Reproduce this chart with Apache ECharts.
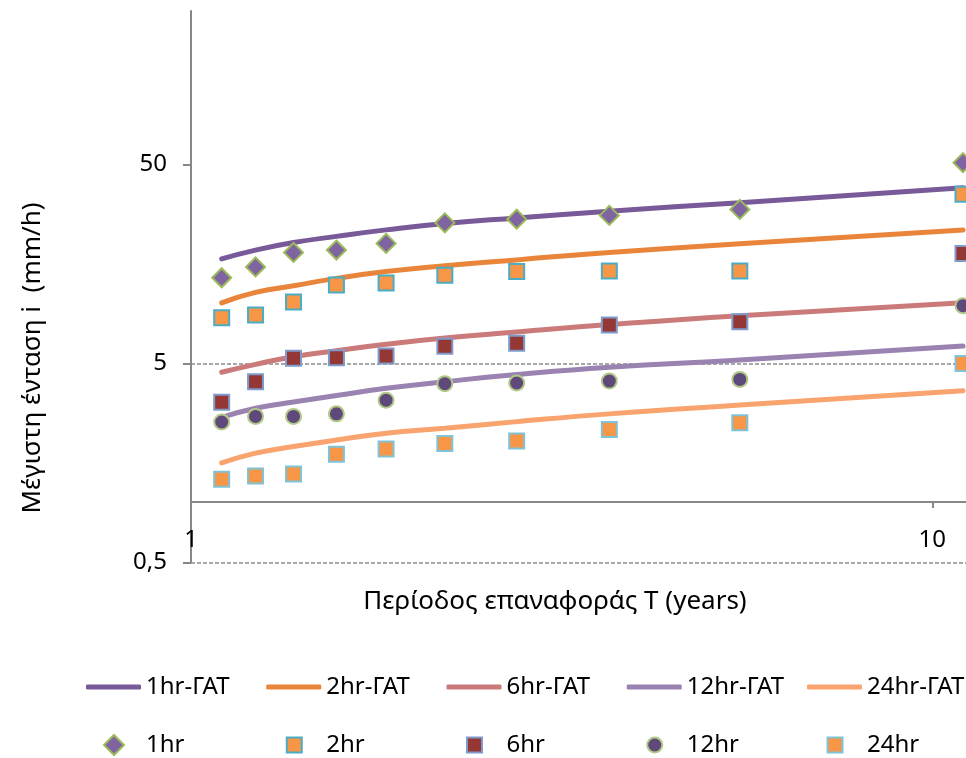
<!DOCTYPE html>
<html>
<head>
<meta charset="utf-8">
<script src="https://cdn.jsdelivr.net/npm/echarts/dist/echarts.min.js"></script>
<style>html,body{margin:0;padding:0;background:#fff;}#c{width:966px;height:758px;}</style>
</head>
<body>
<div id="c"></div>
<script>
// Return period T (years) — plotting positions
var periods = [1.1, 1.222, 1.375, 1.571, 1.833, 2.2, 2.75, 3.667, 5.5, 11];

// Observed maximum intensities (mm/h)
var obs1hr  = [13.5, 15.3, 18.1, 18.6, 20.1, 25.5, 26.6, 27.8, 29.8, 51.2];
var obs2hr  = [8.5, 8.77, 10.2, 12.4, 12.7, 13.9, 14.5, 14.6, 14.6, 35.5];
var obs6hr  = [3.19, 4.05, 5.31, 5.35, 5.46, 6.10, 6.32, 7.81, 8.11, 17.9];
var obs12hr = [2.54, 2.71, 2.71, 2.79, 3.27, 3.96, 3.99, 4.08, 4.16, 9.77];
var obs24hr = [1.31, 1.36, 1.39, 1.75, 1.86, 1.98, 2.04, 2.33, 2.52, 5.0];

// Fitted curves (ΓΑΤ)
var fit1hr  = [16.8, 18.6, 20.3, 21.8, 23.5, 25.3, 27.0, 29.2, 32.2, 38.3];
var fit2hr  = [10.1, 11.4, 12.3, 13.4, 14.5, 15.5, 16.6, 18.1, 20.0, 23.5];
var fit6hr  = [4.52, 4.95, 5.41, 5.80, 6.25, 6.72, 7.20, 7.85, 8.70, 10.1];
var fit12hr = [2.68, 2.98, 3.20, 3.45, 3.75, 4.05, 4.40, 4.79, 5.21, 6.12];
var fit24hr = [1.58, 1.77, 1.91, 2.06, 2.23, 2.36, 2.55, 2.79, 3.09, 3.65];

var lineNames = ['1hr-ΓΑΤ', '2hr-ΓΑΤ', '6hr-ΓΑΤ', '12hr-ΓΑΤ', '24hr-ΓΑΤ'];
var obsNames  = ['1hr', '2hr', '6hr', '12hr', '24hr'];
var yTickLabels = ['0,5', '5', '50'];
var xTickLabels = ['1', '10'];

var FONT = 'Noto Sans';
var lg = Math.log10;
function toPts(vals) { return periods.map(function (t, i) { return [lg(t), lg(vals[i])]; }); }

var lineColors = ['#785A98', '#E9853A', '#CB7A7A', '#9A83B0', '#F9A46E'];
var fits = [fit1hr, fit2hr, fit6hr, fit12hr, fit24hr];
var obsArr = [obs1hr, obs2hr, obs6hr, obs12hr, obs24hr];
var obsStyle = [
  {symbol: 'diamond', size: 19, legend: 20, fill: '#8064A2', border: '#9BBB59'},
  {symbol: 'rect', size: 15, legend: 15, fill: '#F79646', border: '#4BACC6'},
  {symbol: 'rect', size: 15, legend: 15, fill: '#953735', border: '#7F9BCB'},
  {symbol: 'circle', size: 15, legend: 15, fill: '#5F497A', border: '#B0C987'},
  {symbol: 'rect', size: 15, legend: 15, fill: '#F79646', border: '#80C3D7'}
];

var series = [];
fits.forEach(function (f, k) {
  series.push({
    name: lineNames[k], type: 'line', data: toPts(f), smooth: true,
    symbol: 'none', z: 2,
    lineStyle: {color: lineColors[k], width: 5, cap: 'round'},
    itemStyle: {color: lineColors[k]}
  });
});
obsArr.forEach(function (o, k) {
  var s = obsStyle[k];
  series.push({
    name: obsNames[k], type: 'scatter', data: toPts(o), z: 3,
    symbol: s.symbol, symbolSize: s.size, symbolKeepAspect: true,
    itemStyle: {color: s.fill, borderColor: s.border, borderWidth: 2, opacity: 1}
  });
});

var yMin = lg(0.5), yMax = 2.4721;
var gridLeft = 191, gridWidth = 775, pxPerDecade = 741.3;
var xMax = gridWidth / pxPerDecade;
function nearInt(x) { return Math.abs(x - Math.round(x)) < 0.01; }

var legendText = {fontSize: 24, fontFamily: FONT, color: '#000', lineHeight: 26};
var legends = [];
lineNames.forEach(function (n, k) {
  legends.push({
    data: [{name: n, icon: 'roundRect'}], left: 86 + 180.25 * k, top: 674, padding: 0,
    itemWidth: 55, itemHeight: 5, textStyle: legendText
  });
});
obsNames.forEach(function (n, k) {
  var sz = obsStyle[k].legend;
  legends.push({
    data: [n], left: 113 - sz / 2 + 180.25 * k, top: 732, padding: 0,
    itemWidth: sz, itemHeight: sz, itemGap: 0,
    textStyle: {fontSize: 24, fontFamily: FONT, color: '#000', lineHeight: 26,
                padding: [0, 0, 0, 145 - (113 + sz / 2) - 5]}
  });
});

var chart = echarts.init(document.getElementById('c'), null, {renderer: 'canvas'});
chart.setOption({
  animation: false,
  backgroundColor: '#fff',
  grid: {left: gridLeft, top: 11, width: gridWidth, height: 551.3, containLabel: false},
  xAxis: {
    type: 'value', min: 0, max: xMax, interval: 1, position: 'bottom', offset: -60.3,
    axisLine: {onZero: false, lineStyle: {color: '#878787', width: 2}},
    axisTick: {show: true, length: 6, lineStyle: {color: '#878787', width: 2}},
    splitLine: {show: false},
    axisLabel: {
      margin: 26, fontSize: 24, fontFamily: FONT, color: '#000', showMaxLabel: false,
      formatter: function (v) { return nearInt(v) && Math.round(v) < xTickLabels.length ? xTickLabels[Math.round(v)] : ''; }
    }
  },
  yAxis: {
    type: 'value', min: yMin, max: yMax, interval: 1,
    axisLine: {onZero: false, lineStyle: {color: '#878787', width: 2}},
    axisTick: {show: true, length: 8, customValues: [lg(0.5), lg(5), lg(50)], lineStyle: {color: '#878787', width: 2}},
    splitLine: {show: true, showMaxLine: false, lineStyle: {color: ['#8C8C8C', '#8C8C8C', '#8C8C8C', 'rgba(0,0,0,0)'], width: 1.5, type: [4, 2]}},
    axisLabel: {
      margin: 24, fontSize: 24, fontFamily: FONT, color: '#000', showMaxLabel: false,
      formatter: function (v) {
        var d = v - yMin;
        return nearInt(d) && Math.round(d) < yTickLabels.length ? yTickLabels[Math.round(d)] : '';
      }
    }
  },
  legend: legends,
  graphic: [
    {type: 'text', x: 33, y: 358, rotation: Math.PI / 2,
     style: {text: 'Μέγιστη ένταση i  (mm/h)', fontSize: 26, fontFamily: FONT, fill: '#000', align: 'center', verticalAlign: 'middle'}},
    {type: 'text', x: 555, y: 602,
     style: {text: 'Περίοδος επαναφοράς T (years)', fontSize: 26, fontFamily: FONT, fill: '#000', align: 'center', verticalAlign: 'middle'}}
  ],
  series: series
});
</script>
</body>
</html>
